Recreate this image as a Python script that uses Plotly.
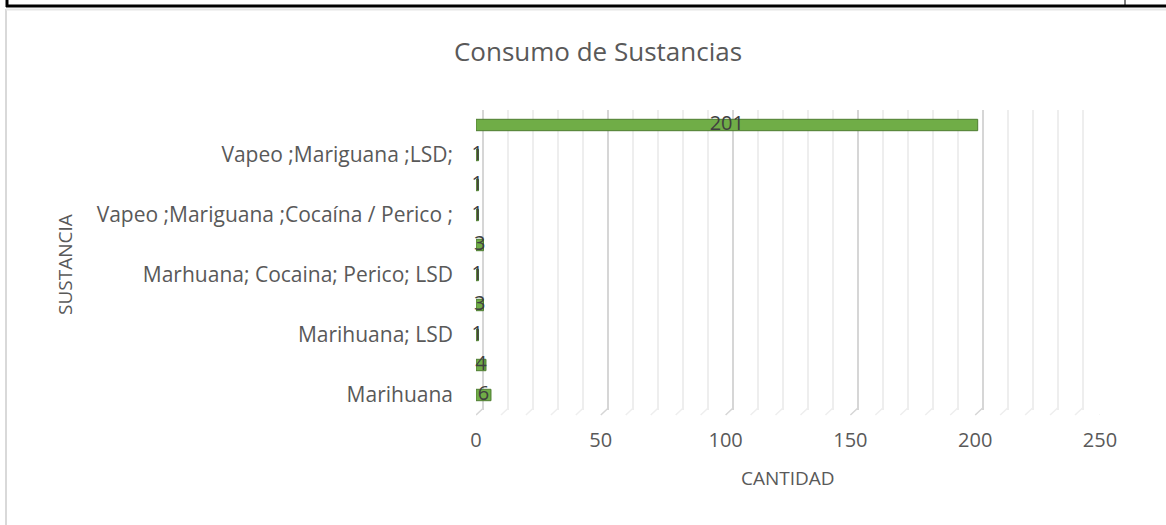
import plotly.graph_objects as go

# Data (bottom to top)
categorias = [
    "Marihuana",
    "Vapeo",
    "Marihuana; LSD",
    "Marihuana; Cocaína",
    "Marhuana; Cocaina; Perico; LSD",
    "Vapeo ;Mariguana ;",
    "Vapeo ;Mariguana ;Cocaína / Perico ;",
    "Mariguana ;LSD;",
    "Vapeo ;Mariguana ;LSD;",
    "Ninguna",
]
cantidades = [6, 4, 1, 3, 1, 3, 1, 1, 1, 201]
etiquetas_visibles = [
    "Marihuana",
    "Marihuana; LSD",
    "Marhuana; Cocaina; Perico; LSD",
    "Vapeo ;Mariguana ;Cocaína / Perico ;",
    "Vapeo ;Mariguana ;LSD;",
]
x_ticks = [0, 50, 100, 150, 200, 250]

W, H = 1166, 525
L, R, T, B = 476, 66, 110, 115
PW, PH = W - L - R, H - T - B

FONT = "Open Sans"
GRAY = "#595959"

def px2fx(px):
    return (px - L) / PW

def py2fy(py):
    return 1 - (py - T) / PH

fig = go.Figure()

fig.add_trace(go.Bar(
    x=cantidades, y=categorias, orientation="h",
    marker=dict(color="#70AD47", line=dict(color="#4E7D31", width=1)),
    width=0.38, hoverinfo="skip", showlegend=False,
))
fig.add_trace(go.Scatter(
    x=[v / 2 for v in cantidades], y=categorias, mode="text",
    text=[str(v) for v in cantidades],
    textfont=dict(family=FONT, size=20, color="#404040"),
    showlegend=False, hoverinfo="skip", xaxis="x", yaxis="y", cliponaxis=False,
))

# offset gridlines (3D back wall look)
shift = 3
fig.add_trace(go.Scatter(x=[0], y=[categorias[0]], xaxis="x2", yaxis="y",
                         mode="markers", marker=dict(opacity=0), showlegend=False,
                         hoverinfo="skip"))

MAJ, MIN = "#d6d6d6", "#eeeeee"

shapes = []
# page decorations
shapes.append(dict(type="line", xref="paper", yref="paper",
                   x0=px2fx(6), x1=px2fx(1166), y0=py2fy(6), y1=py2fy(6),
                   line=dict(color="black", width=3)))
shapes.append(dict(type="line", xref="paper", yref="paper",
                   x0=px2fx(7), x1=px2fx(7), y0=py2fy(0), y1=py2fy(7),
                   line=dict(color="black", width=3)))
shapes.append(dict(type="line", xref="paper", yref="paper",
                   x0=px2fx(1125), x1=px2fx(1125), y0=py2fy(0), y1=py2fy(7),
                   line=dict(color="black", width=1)))
shapes.append(dict(type="line", xref="paper", yref="paper",
                   x0=px2fx(6), x1=px2fx(6), y0=py2fy(9), y1=py2fy(525),
                   line=dict(color="#d9d9d9", width=2)))
shapes.append(dict(type="line", xref="paper", yref="paper",
                   x0=px2fx(6), x1=px2fx(1166), y0=py2fy(9.5), y1=py2fy(9.5),
                   line=dict(color="#e6e6e6", width=2)))
# floor diagonals for gridlines
for v in range(0, 251, 10):
    col = MAJ if v % 50 == 0 else MIN
    shapes.append(dict(type="line", xref="x", yref="paper",
                       x0=v + shift, x1=v, y0=py2fy(408), y1=py2fy(415),
                       line=dict(color=col, width=1.5)))

fig.update_layout(
    width=W, height=H,
    margin=dict(l=L, r=R, t=T, b=B),
    paper_bgcolor="white", plot_bgcolor="rgba(0,0,0,0)",
    font=dict(family=FONT, color=GRAY, size=21),
    title=dict(text="Consumo de Sustancias", x=598 / W, xref="container",
               y=1 - 52 / H, yref="container", xanchor="center", yanchor="middle",
               font=dict(family=FONT, size=26, color=GRAY)),
    xaxis=dict(range=[0, 250], tickvals=x_ticks, showgrid=False, zeroline=False,
               showline=False, ticks="", ticklabelstandoff=16,
               tickfont=dict(family=FONT, size=20, color=GRAY)),
    xaxis2=dict(range=[-shift, 250 - shift], overlaying="x", side="bottom",
                showticklabels=False, showgrid=True, gridcolor=MAJ, gridwidth=1.5,
                tickvals=x_ticks, zeroline=False, showline=False, ticks="",
                minor=dict(dtick=10, tick0=0, showgrid=True, gridcolor=MIN, gridwidth=1.5),
                layer="below traces"),
    yaxis=dict(categoryorder="array", categoryarray=categorias,
               range=[-0.5, 9.5],
               tickvals=etiquetas_visibles, ticktext=etiquetas_visibles,
               showgrid=False, zeroline=False, showline=False, ticks="",
               ticklabelstandoff=22,
               tickfont=dict(family=FONT, size=21, color=GRAY)),
    shapes=shapes,
    annotations=[
        dict(text="CANTIDAD", xref="paper", yref="paper", x=px2fx(788), y=py2fy(478),
             showarrow=False, xanchor="center", yanchor="middle",
             font=dict(family=FONT, size=19, color=GRAY)),
        dict(text="SUSTANCIA", xref="paper", yref="paper", x=px2fx(65), y=py2fy(265),
             showarrow=False, xanchor="center", yanchor="middle", textangle=-90,
             font=dict(family=FONT, size=19, color=GRAY)),
    ],
)

fig.write_html("out.html", config={"displayModeBar": False},
               post_script="document.body.style.margin='0px';")
